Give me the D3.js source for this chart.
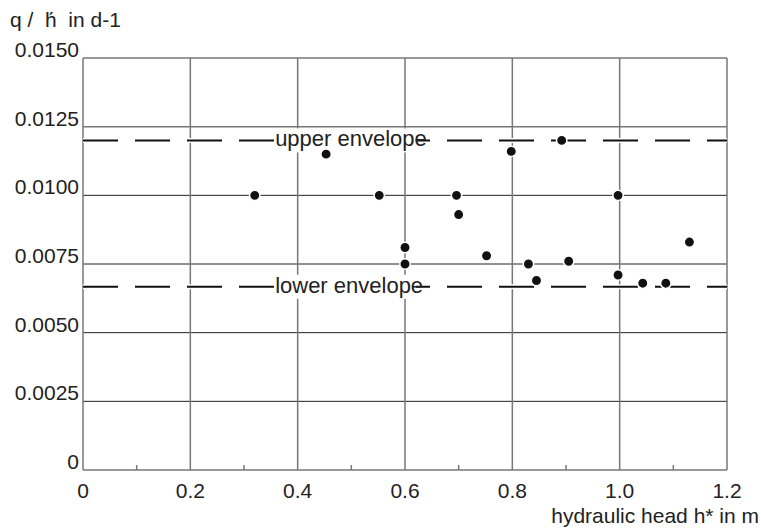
<!DOCTYPE html>
<html>
<head>
<meta charset="utf-8">
<script src="https://cdn.jsdelivr.net/npm/d3@7"></script>
<style>
  body { margin: 0; background: #fff; }
  text { font-family: "Liberation Sans", Arial, sans-serif; fill: #222; }
</style>
</head>
<body>
<div id="plot"></div>
<script>
// measured points: hydraulic head h* (m) vs q / h'
var headValues = [0.32, 0.453, 0.552, 0.600, 0.600, 0.696, 0.700, 0.752, 0.798,
  0.830, 0.845, 0.892, 0.905, 0.997, 0.997, 1.043, 1.086, 1.130];
var rateValues = [0.0100, 0.0115, 0.0100, 0.0081, 0.0075, 0.0100, 0.0093, 0.0078, 0.0116,
  0.0075, 0.0069, 0.0120, 0.0076, 0.0100, 0.0071, 0.0068, 0.0068, 0.0083];

var envelopeNames = ["upper envelope", "lower envelope"];
var envelopeValues = [0.0120, 0.00667];

var xTicks = [0, 0.2, 0.4, 0.6, 0.8, 1.0, 1.2];
var xTickLabels = ["0", "0.2", "0.4", "0.6", "0.8", "1.0", "1.2"];
var xMinorTicks = [0.1, 0.3, 0.5, 0.7, 0.9, 1.1];
var yTicks = [0, 0.0025, 0.005, 0.0075, 0.01, 0.0125, 0.015];
var yTickLabels = ["0", "0.0025", "0.0050", "0.0075", "0.0100", "0.0125", "0.0150"];

var margin = { top: 58, right: 34, bottom: 58, left: 83 },
  width = 761 - margin.left - margin.right,
  height = 528 - margin.top - margin.bottom;

var root = d3.select("div#plot")
  .append("svg")
  .attr("width", 761)
  .attr("height", 528);

var svg = root.append("g")
  .attr("transform", `translate(${margin.left},${margin.top})`);

var x = d3.scaleLinear().domain([0, 1.2]).range([0, width]);
var y = d3.scaleLinear().domain([0, 0.015]).range([height, 0]);

// horizontal grid
svg.selectAll(".hgrid")
  .data(yTicks)
  .join("line")
  .attr("class", "hgrid")
  .attr("x1", 0).attr("x2", width)
  .attr("y1", d => y(d)).attr("y2", d => y(d))
  .attr("stroke", d => (d >= 0.0125 || d === 0) ? "#777" : "#222")
  .attr("stroke-width", d => (d >= 0.0125 || d === 0) ? 1.5 : 1);

// vertical grid
svg.selectAll(".vgrid")
  .data(xTicks)
  .join("line")
  .attr("class", "vgrid")
  .attr("x1", d => x(d)).attr("x2", d => x(d))
  .attr("y1", 0).attr("y2", height)
  .attr("stroke", "#777")
  .attr("stroke-width", 1.5);

// minor ticks on the bottom axis
svg.selectAll(".minor")
  .data(xMinorTicks)
  .join("line")
  .attr("class", "minor")
  .attr("x1", d => x(d)).attr("x2", d => x(d))
  .attr("y1", height).attr("y2", height - 5)
  .attr("stroke", "#777")
  .attr("stroke-width", 1.5);

// envelopes (white halo first, then dashes)
svg.selectAll(".env-halo")
  .data(envelopeValues)
  .join("line")
  .attr("class", "env-halo")
  .attr("x1", 0).attr("x2", width)
  .attr("y1", d => y(d)).attr("y2", d => y(d))
  .attr("stroke", "#fff")
  .attr("stroke-width", 5)
  .attr("stroke-dasharray", "37,15")
  .attr("stroke-dashoffset", 1);

svg.selectAll(".env")
  .data(envelopeValues)
  .join("line")
  .attr("class", "env")
  .attr("x1", 0).attr("x2", width)
  .attr("y1", d => y(d)).attr("y2", d => y(d))
  .attr("stroke", "#111")
  .attr("stroke-width", 2)
  .attr("stroke-dasharray", "35,17");

// envelope labels on a white patch
svg.selectAll(".env-bg")
  .data(envelopeValues)
  .join("rect")
  .attr("class", "env-bg")
  .attr("x", x(0.357))
  .attr("y", d => y(d) - 12)
  .attr("width", x(0.62) - x(0.357))
  .attr("height", 24)
  .attr("fill", "#fff");

svg.selectAll(".env-label")
  .data(envelopeValues)
  .join("text")
  .attr("class", "env-label")
  .attr("x", x(0.358))
  .attr("y", d => y(d) + 6)
  .style("font-size", "22px")
  .text((d, i) => envelopeNames[i]);

// points
svg.selectAll(".dot")
  .data(headValues)
  .join("circle")
  .attr("class", "dot")
  .attr("cx", d => x(d))
  .attr("cy", (d, i) => y(rateValues[i]))
  .attr("r", 5.2)
  .attr("fill", "#111")
  .attr("stroke", "#fff")
  .attr("stroke-width", 1.5);

// tick labels
svg.selectAll(".ylab")
  .data(yTicks)
  .join("text")
  .attr("class", "ylab")
  .attr("x", -4)
  .attr("y", d => y(d) - 1)
  .attr("text-anchor", "end")
  .style("font-size", "21px")
  .text((d, i) => yTickLabels[i]);

svg.selectAll(".xlab")
  .data(xTicks)
  .join("text")
  .attr("class", "xlab")
  .attr("x", d => x(d))
  .attr("y", height + 28)
  .attr("text-anchor", "middle")
  .style("font-size", "21px")
  .text((d, i) => xTickLabels[i]);

// axis titles
root.append("text")
  .attr("x", 10)
  .attr("y", 27)
  .style("font-size", "21px")
  .style("white-space", "pre")
  .text("q /  h\u0301  in d-1");

root.append("text")
  .attr("x", 759)
  .attr("y", 523)
  .attr("text-anchor", "end")
  .style("font-size", "21px")
  .text("hydraulic head h* in m");
</script>
</body>
</html>
